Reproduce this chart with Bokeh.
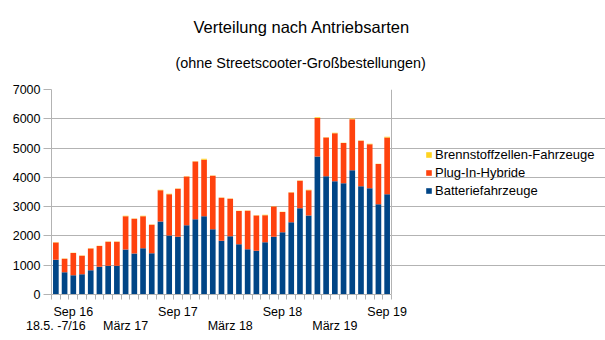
from bokeh.plotting import figure
from bokeh.models import (Range1d, FixedTicker, LinearAxis, Legend, LegendItem, Title, Span)
from bokeh.embed import file_html
from bokeh.resources import INLINE

# ---- data ----
months = ["18.5. -7/16", "Aug 16", "Sep 16", "Okt 16", "Nov 16", "Dez 16",
          "Jan 17", "Feb 17", "März 17", "Apr 17", "Mai 17", "Jun 17", "Jul 17",
          "Aug 17", "Sep 17", "Okt 17", "Nov 17", "Dez 17", "Jan 18", "Feb 18",
          "März 18", "Apr 18", "Mai 18", "Jun 18", "Jul 18", "Aug 18", "Sep 18",
          "Okt 18", "Nov 18", "Dez 18", "Jan 19", "Feb 19", "März 19", "Apr 19",
          "Mai 19", "Jun 19", "Jul 19", "Aug 19", "Sep 19"]
batterie = [1184, 763, 660, 694, 831, 945, 979, 979, 1537, 1400, 1582, 1411, 2493,
            2015, 1969, 2367, 2572, 2675, 2231, 1832, 1992, 1719, 1548, 1491, 1787,
            1969, 2128, 2470, 2948, 2697, 4712, 4041, 3870, 3801, 4245, 3699, 3631,
            3084, 3426]
plugin = [593, 456, 753, 628, 741, 707, 821, 821, 1139, 1185, 1094, 969, 1071,
          1412, 1640, 1664, 1971, 1927, 1822, 1470, 1276, 1128, 1310, 1208, 923,
          1037, 685, 1014, 935, 867, 1313, 1321, 1640, 1368, 1735, 1550, 1503,
          1368, 1938]
brennstoff = [10, 10, 10, 10, 10, 10, 10, 10, 10, 10, 10, 10, 10,
              10, 10, 10, 10, 30, 10, 10, 10, 10, 10, 10, 10,
              10, 10, 10, 10, 10, 30, 10, 10, 10, 30, 10, 10,
              10, 20]
series_names = ["Batteriefahrzeuge", "Plug-In-Hybride", "Brennstoffzellen-Fahrzeuge"]
colors = ["#004586", "#ff420e", "#ffd320"]
y_ticks = [0, 1000, 2000, 3000, 4000, 5000, 6000, 7000]
row1_idx = [2, 14, 26, 38]
row2_idx = [0, 8, 20, 32]

FONT = "Liberation Sans"
GRID = "#b3b3b3"

n = len(months)
xs = list(range(n))
data = dict(x=xs, bat=batterie, plug=plugin, fc=brennstoff)

# layout: plot area 51..391 px holds the categories; frame extends to the
# right edge so the legend (drawn inside the frame) is not clipped.
W, H = 605, 340
LEFT, DATA_RIGHT = 51, 391
px_per_cat = (DATA_RIGHT - LEFT) / n
x_end = -0.5 + (W - LEFT) / px_per_cat

p = figure(width=W, height=H, output_backend="svg", toolbar_location=None,
           x_range=Range1d(-0.5, x_end), y_range=Range1d(0, 7000),
           min_border_left=LEFT, min_border_right=0, min_border_top=89,
           min_border_bottom=46, x_axis_location=None, y_axis_location=None)
p.title.visible = False
p.background_fill_color = "white"
p.border_fill_color = "white"
p.outline_line_color = None

rs = p.vbar_stack(["bat", "plug", "fc"], x="x", width=0.65, color=colors,
                  line_color=None, source=data)

# grid
p.xgrid.visible = False
p.ygrid.ticker = FixedTicker(ticks=y_ticks)
p.ygrid.grid_line_color = GRID
p.ygrid.bounds = (-0.5, n - 0.5)
p.add_layout(Span(location=n - 0.5, dimension="height", line_color=GRID, line_width=1))

# y axis
ya = LinearAxis(ticker=FixedTicker(ticks=y_ticks))
ya.axis_line_color = GRID
ya.major_tick_line_color = GRID
ya.major_tick_out = 8
ya.major_tick_in = 0
ya.minor_tick_line_color = None
ya.major_label_text_font = FONT
ya.major_label_text_font_size = "12.5px"
ya.major_label_text_color = "#000000"
ya.major_label_standoff = 3
p.add_layout(ya, "left")

# x axis, row 1 with boundary ticks
bounds = [i - 0.5 for i in range(n + 1)]
xa = LinearAxis(ticker=FixedTicker(ticks=row1_idx, minor_ticks=bounds))
xa.bounds = (-0.5, n - 0.5)
xa.major_label_overrides = {i: months[i] for i in row1_idx}
xa.axis_line_color = GRID
xa.major_tick_out = 0
xa.major_tick_in = 0
xa.major_tick_line_color = None
xa.minor_tick_line_color = GRID
xa.minor_tick_out = 5
xa.minor_tick_in = 0
xa.major_label_text_font = FONT
xa.major_label_text_font_size = "12.5px"
xa.major_label_text_color = "#000000"
xa.major_label_standoff = 5
p.add_layout(xa, "below")

xb = LinearAxis(ticker=FixedTicker(ticks=row2_idx, minor_ticks=[]))
xb.bounds = (-0.5, n - 0.5)
xb.major_label_overrides = {i: months[i] for i in row2_idx}
xb.axis_line_color = None
xb.major_tick_line_color = None
xb.minor_tick_line_color = None
xb.major_tick_out = 0
xb.major_tick_in = 0
xb.major_label_text_font = FONT
xb.major_label_text_font_size = "12.5px"
xb.major_label_text_color = "#000000"
xb.major_label_standoff = -3
p.add_layout(xb, "below")

# titles (a thin spacer first, closest to the plot area)
spacer = Title(text=" ", align="left", text_font=FONT, text_font_size="1px",
               standoff=6)
p.add_layout(spacer, "above")
sub = Title(text="(ohne Streetscooter-Großbestellungen)", align="left", offset=124,
            text_font=FONT, text_font_size="14.4px", text_font_style="normal",
            text_color="#000000", standoff=19)
p.add_layout(sub, "above")
main = Title(text="Verteilung nach Antriebsarten", align="left", offset=142,
             text_font=FONT, text_font_size="16.5px", text_font_style="normal",
             text_color="#000000", standoff=16)
p.add_layout(main, "above")

# legend
items = [LegendItem(label=series_names[i], renderers=[rs[i]]) for i in (2, 1, 0)]
leg = Legend(items=items, location=(374, 95))
leg.padding = 0
leg.margin = 0
leg.spacing = 0
leg.border_line_color = None
leg.background_fill_alpha = 0
leg.glyph_width = 7
leg.glyph_height = 7
leg.label_height = 18
leg.label_standoff = 3
leg.label_text_font = FONT
leg.label_text_font_size = "13px"
leg.label_text_color = "#000000"
leg.label_text_baseline = "middle"
p.add_layout(leg, "center")

open("out.html", "w").write(file_html(p, INLINE))
